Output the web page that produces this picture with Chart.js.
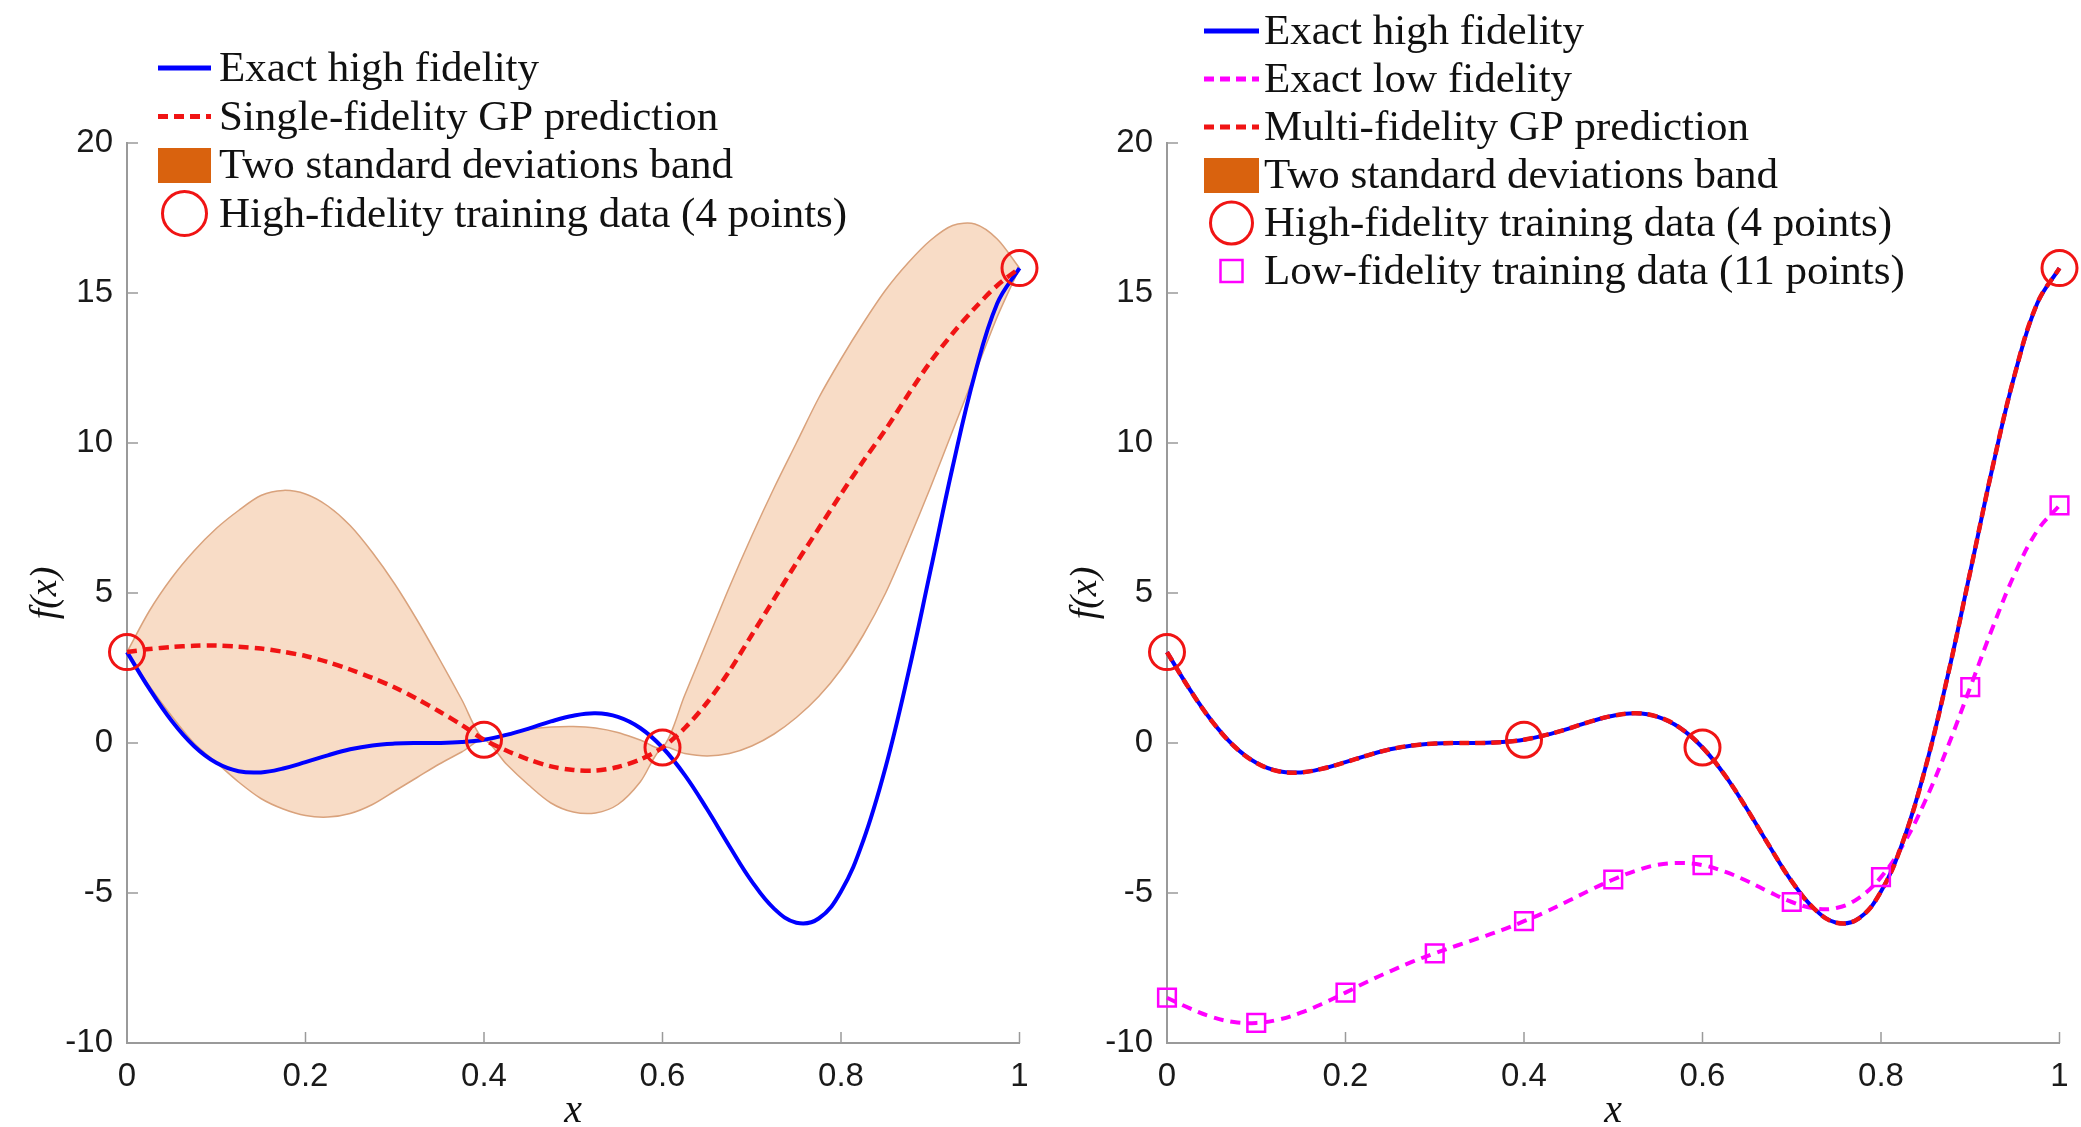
<!DOCTYPE html>
<html>
<head>
<meta charset="utf-8">
<script src="https://cdn.jsdelivr.net/npm/chart.js@4.4.1/dist/chart.umd.min.js"></script>
<style>
  html, body { margin: 0; padding: 0; background: #fff; overflow: hidden; }
  #wrap { position: relative; width: 2081px; height: 1127px; }
  canvas { position: absolute; top: 0; }
  #leftChart { left: 0; }
  #rightChart { left: 1040px; }
</style>
</head>
<body>
<div id="wrap">
  <canvas id="leftChart" width="1040" height="1127"></canvas>
  <canvas id="rightChart" width="1040" height="1127"></canvas>
</div>
<script>
// x grids
const xFine = [0, 0.025, 0.05, 0.075, 0.1, 0.125, 0.15, 0.175, 0.2, 0.225, 0.25, 0.275, 0.3, 0.325, 0.35, 0.375, 0.4,
    0.425, 0.45, 0.475, 0.5, 0.525, 0.55, 0.575, 0.6, 0.625, 0.65, 0.675, 0.7, 0.725, 0.75, 0.775, 0.8, 0.825, 0.85,
    0.875, 0.9, 0.925, 0.95, 0.975, 1];
const xLowTrain = [0, 0.1, 0.2, 0.3, 0.4, 0.5, 0.6, 0.7, 0.8, 0.9, 1];
const xHighTrain = [0, 0.4, 0.6, 1];

// exact curves
const hfExact = [3.03, 1.81, 0.74, -0.10, -0.66, -0.94, -0.98, -0.85, -0.64, -0.41, -0.21, -0.08, -0.02, 0.00, 0.00,
    0.03, 0.11, 0.27, 0.48, 0.72, 0.91, 0.99, 0.87, 0.50, -0.15, -1.07, -2.21, -3.44, -4.61, -5.52, -5.99, -5.85,
    -4.95, -3.25, -0.80, 2.27, 5.71, 9.19, 12.30, 14.65, 15.83];
const lfExact = [-8.49, -8.84, -9.13, -9.30, -9.33, -9.22, -8.99, -8.68, -8.32, -7.95, -7.61, -7.29, -7.01, -6.75,
    -6.50, -6.24, -5.94, -5.62, -5.26, -4.89, -4.55, -4.26, -4.06, -4.00, -4.07, -4.29, -4.60, -4.97, -5.30, -5.51,
    -5.50, -5.17, -4.47, -3.38, -1.90, -0.11, 1.86, 3.84, 5.65, 7.07, 7.92];

// single-fidelity GP (left): mean and two-sigma band
const sfMean = [3.03, 3.13, 3.2, 3.24, 3.25, 3.21, 3.15, 3.04, 2.9, 2.7, 2.45, 2.17, 1.85, 1.47, 1.05, 0.6, 0.11,
    -0.25, -0.55, -0.78, -0.9, -0.92, -0.8, -0.55, -0.15, 0.5, 1.35, 2.4, 3.6, 4.8, 6.0, 7.15, 8.3, 9.4, 10.45,
    11.6, 12.7, 13.65, 14.5, 15.25, 15.83];
const sfUpper = [3.03, 4.4, 5.5, 6.4, 7.15, 7.75, 8.25, 8.42, 8.3, 7.9, 7.25, 6.35, 5.3, 4.1, 2.8, 1.45, 0.11,
    0.3, 0.45, 0.53, 0.55, 0.5, 0.35, 0.1, -0.15, 1.6, 3.4, 5.2, 6.9, 8.5, 10.0, 11.5, 12.8, 14.0, 15.1,
    16.0, 16.75, 17.25, 17.3, 16.8, 15.83];
const sfLower = [3.03, 1.9, 0.9, 0.0, -0.65, -1.3, -1.85, -2.2, -2.42, -2.47, -2.35, -2.05, -1.6, -1.15, -0.7, -0.3, 0.11,
    -0.7, -1.4, -2.0, -2.3, -2.33, -2.05, -1.3, -0.15, -0.35, -0.43, -0.35, -0.1, 0.3, 0.85, 1.55, 2.45, 3.6, 5.0,
    6.7, 8.5, 10.4, 12.3, 14.2, 15.83];

// multi-fidelity GP (right) sits on the exact high fidelity curve
const mfMean = [3.03, 1.81, 0.74, -0.10, -0.66, -0.94, -0.98, -0.85, -0.64, -0.41, -0.21, -0.08, -0.02, 0.00, 0.00,
    0.03, 0.11, 0.27, 0.48, 0.72, 0.91, 0.99, 0.87, 0.50, -0.15, -1.07, -2.21, -3.44, -4.61, -5.52, -5.99, -5.85,
    -4.95, -3.25, -0.80, 2.27, 5.71, 9.19, 12.30, 14.65, 15.83];

// training data
const hfTrain = [3.03, 0.11, -0.15, 15.83];
const lfTrain = [-8.49, -9.33, -8.32, -7.01, -5.94, -4.55, -4.07, -5.30, -4.47, 1.86, 7.92];

// ticks
const xTicks = [0, 0.2, 0.4, 0.6, 0.8, 1];
const yTicks = [-10, -5, 0, 5, 10, 15, 20];

const blue = '#0000ff';
const red = '#f01414';
const magenta = '#ff00ff';
const bandFill = '#f8dcc6';
const bandEdge = '#d9a27c';
const bandSwatch = '#d9620e';
const axisColor = '#9a9a9a';
const serif = '"Liberation Serif", "Times New Roman", serif';
const sans = '"Liberation Sans", Arial, sans-serif';

const pts = (xs, ys) => xs.map((x, i) => ({ x: x, y: ys[i] }));

// small ticks pointing into the plot, like the original
const inwardTicks = {
    id: 'inwardTicks',
    beforeDatasetsDraw(chart) {
        const { ctx, chartArea: a, scales: { x, y } } = chart;
        ctx.save();
        ctx.strokeStyle = axisColor;
        ctx.lineWidth = 1.5;
        ctx.beginPath();
        xTicks.forEach(v => {
            const px = x.getPixelForValue(v);
            ctx.moveTo(px, a.bottom);
            ctx.lineTo(px, a.bottom - 11);
        });
        yTicks.forEach(v => {
            const py = y.getPixelForValue(v);
            ctx.moveTo(a.left, py);
            ctx.lineTo(a.left + 11, py);
        });
        ctx.stroke();
        ctx.restore();
    }
};

function legendPlugin(cfg) {
    return {
        id: 'matLegend',
        afterDraw(chart) {
            const ctx = chart.ctx;
            ctx.save();
            cfg.items.forEach((item, i) => {
                const y = cfg.top + i * cfg.step;
                const x0 = cfg.sampleX;
                const x1 = cfg.sampleX + cfg.sampleW;
                const cx = (x0 + x1) / 2;
                ctx.setLineDash(item.dash || []);
                if (item.kind === 'line') {
                    ctx.strokeStyle = item.color;
                    ctx.lineWidth = 5;
                    ctx.beginPath();
                    ctx.moveTo(x0, y);
                    ctx.lineTo(x1, y);
                    ctx.stroke();
                } else if (item.kind === 'box') {
                    ctx.fillStyle = item.color;
                    ctx.fillRect(x0, y - 17, cfg.sampleW, 35);
                } else if (item.kind === 'circle') {
                    ctx.strokeStyle = item.color;
                    ctx.lineWidth = 3;
                    ctx.beginPath();
                    ctx.arc(cx, y, cfg.circleR, 0, Math.PI * 2);
                    ctx.stroke();
                } else if (item.kind === 'square') {
                    ctx.strokeStyle = item.color;
                    ctx.lineWidth = 2.5;
                    ctx.strokeRect(cx - 11, y - 11, 22, 22);
                }
                ctx.setLineDash([]);
                ctx.fillStyle = '#111';
                ctx.font = '43px ' + serif;
                ctx.textBaseline = 'middle';
                ctx.textAlign = 'left';
                ctx.fillText(item.label, cfg.textX, y + 2);
            });
            ctx.restore();
        }
    };
}

function scalesConfig() {
    return {
        x: {
            type: 'linear', min: 0, max: 1,
            afterBuildTicks: s => { s.ticks = xTicks.map(v => ({ value: v })); },
            afterFit: s => { s.height = 84; },
            grid: { display: false },
            border: { color: axisColor, width: 2 },
            ticks: { color: '#1a1a1a', font: { family: sans, size: 33 }, padding: 6, maxRotation: 0, autoSkip: false,
                callback: v => String(v) },
            title: { display: true, text: 'x', color: '#111',
                font: { family: serif, size: 40, style: 'italic', lineHeight: 0.8 }, padding: 0 }
        },
        y: {
            type: 'linear', min: -10, max: 20,
            afterBuildTicks: s => { s.ticks = yTicks.map(v => ({ value: v })); },
            afterFit: s => { s.width = 127; },
            grid: { display: false },
            border: { color: axisColor, width: 2 },
            ticks: { color: '#1a1a1a', font: { family: sans, size: 33 }, padding: 6, autoSkip: false,
                callback: v => String(v) },
            title: { display: true, text: 'f(x)', color: '#111',
                font: { family: serif, size: 38, style: 'italic', lineHeight: 1.2 }, padding: { top: 23, bottom: 0 } }
        }
    };
}

const commonOptions = {
    responsive: false,
    animation: false,
    devicePixelRatio: 1,
    layout: { padding: { top: 143, right: 10, bottom: 0, left: 0 } },
    plugins: { legend: { display: false }, tooltip: { enabled: false } },
    elements: { point: { radius: 0 } }
};

// Left: single-fidelity GP
new Chart(document.getElementById('leftChart'), {
    type: 'line',
    data: {
        datasets: [
            { data: pts(xHighTrain, hfTrain), showLine: false, pointStyle: 'circle', pointRadius: 17.5,
              pointBorderWidth: 3, pointBorderColor: red, pointBackgroundColor: 'rgba(0,0,0,0)', order: 0, clip: false },
            { data: pts(xFine, sfMean), borderColor: red, borderWidth: 4.5, borderDash: [10, 6],
              tension: 0.3, pointRadius: 0, order: 1, clip: false },
            { data: pts(xFine, hfExact), borderColor: blue, borderWidth: 4,
              tension: 0.4, pointRadius: 0, order: 2, clip: false },
            { data: pts(xFine, sfUpper), borderColor: bandEdge, borderWidth: 1.5, backgroundColor: bandFill,
              fill: '+1', tension: 0.3, pointRadius: 0, order: 4, clip: false },
            { data: pts(xFine, sfLower), borderColor: bandEdge, borderWidth: 1.5, fill: false,
              tension: 0.3, pointRadius: 0, order: 3, clip: false }
        ]
    },
    options: Object.assign({}, commonOptions, { scales: scalesConfig() }),
    plugins: [inwardTicks, legendPlugin({
        top: 68, step: 48.5, sampleX: 158, sampleW: 53, textX: 219, circleR: 22,
        items: [
            { label: 'Exact high fidelity', kind: 'line', color: blue },
            { label: 'Single-fidelity GP prediction', kind: 'line', color: red, dash: [10, 6] },
            { label: 'Two standard deviations band', kind: 'box', color: bandSwatch },
            { label: 'High-fidelity training data (4 points)', kind: 'circle', color: red }
        ]
    })]
});

// Right: multi-fidelity GP
new Chart(document.getElementById('rightChart'), {
    type: 'line',
    data: {
        datasets: [
            { data: pts(xHighTrain, hfTrain), showLine: false, pointStyle: 'circle', pointRadius: 17.5,
              pointBorderWidth: 3, pointBorderColor: red, pointBackgroundColor: 'rgba(0,0,0,0)', order: 0, clip: false },
            { data: pts(xLowTrain, lfTrain), showLine: false, pointStyle: 'rect', pointRadius: 12.5,
              pointBorderWidth: 2.5, pointBorderColor: magenta, pointBackgroundColor: 'rgba(0,0,0,0)', order: 1, clip: false },
            { data: pts(xFine, mfMean), borderColor: red, borderWidth: 4.5, borderDash: [10, 6],
              tension: 0.4, pointRadius: 0, order: 2, clip: false },
            { data: pts(xFine, hfExact), borderColor: blue, borderWidth: 4,
              tension: 0.4, pointRadius: 0, order: 3, clip: false },
            { data: pts(xFine, lfExact), borderColor: magenta, borderWidth: 4, borderDash: [10, 7],
              tension: 0.4, pointRadius: 0, order: 4, clip: false }
        ]
    },
    options: Object.assign({}, commonOptions, { scales: scalesConfig() }),
    plugins: [inwardTicks, legendPlugin({
        top: 31, step: 48, sampleX: 164, sampleW: 55, textX: 224, circleR: 21,
        items: [
            { label: 'Exact high fidelity', kind: 'line', color: blue },
            { label: 'Exact low fidelity', kind: 'line', color: magenta, dash: [10, 6] },
            { label: 'Multi-fidelity GP prediction', kind: 'line', color: red, dash: [10, 6] },
            { label: 'Two standard deviations band', kind: 'box', color: bandSwatch },
            { label: 'High-fidelity training data (4 points)', kind: 'circle', color: red },
            { label: 'Low-fidelity training data (11 points)', kind: 'square', color: magenta }
        ]
    })]
});
</script>
</body>
</html>
